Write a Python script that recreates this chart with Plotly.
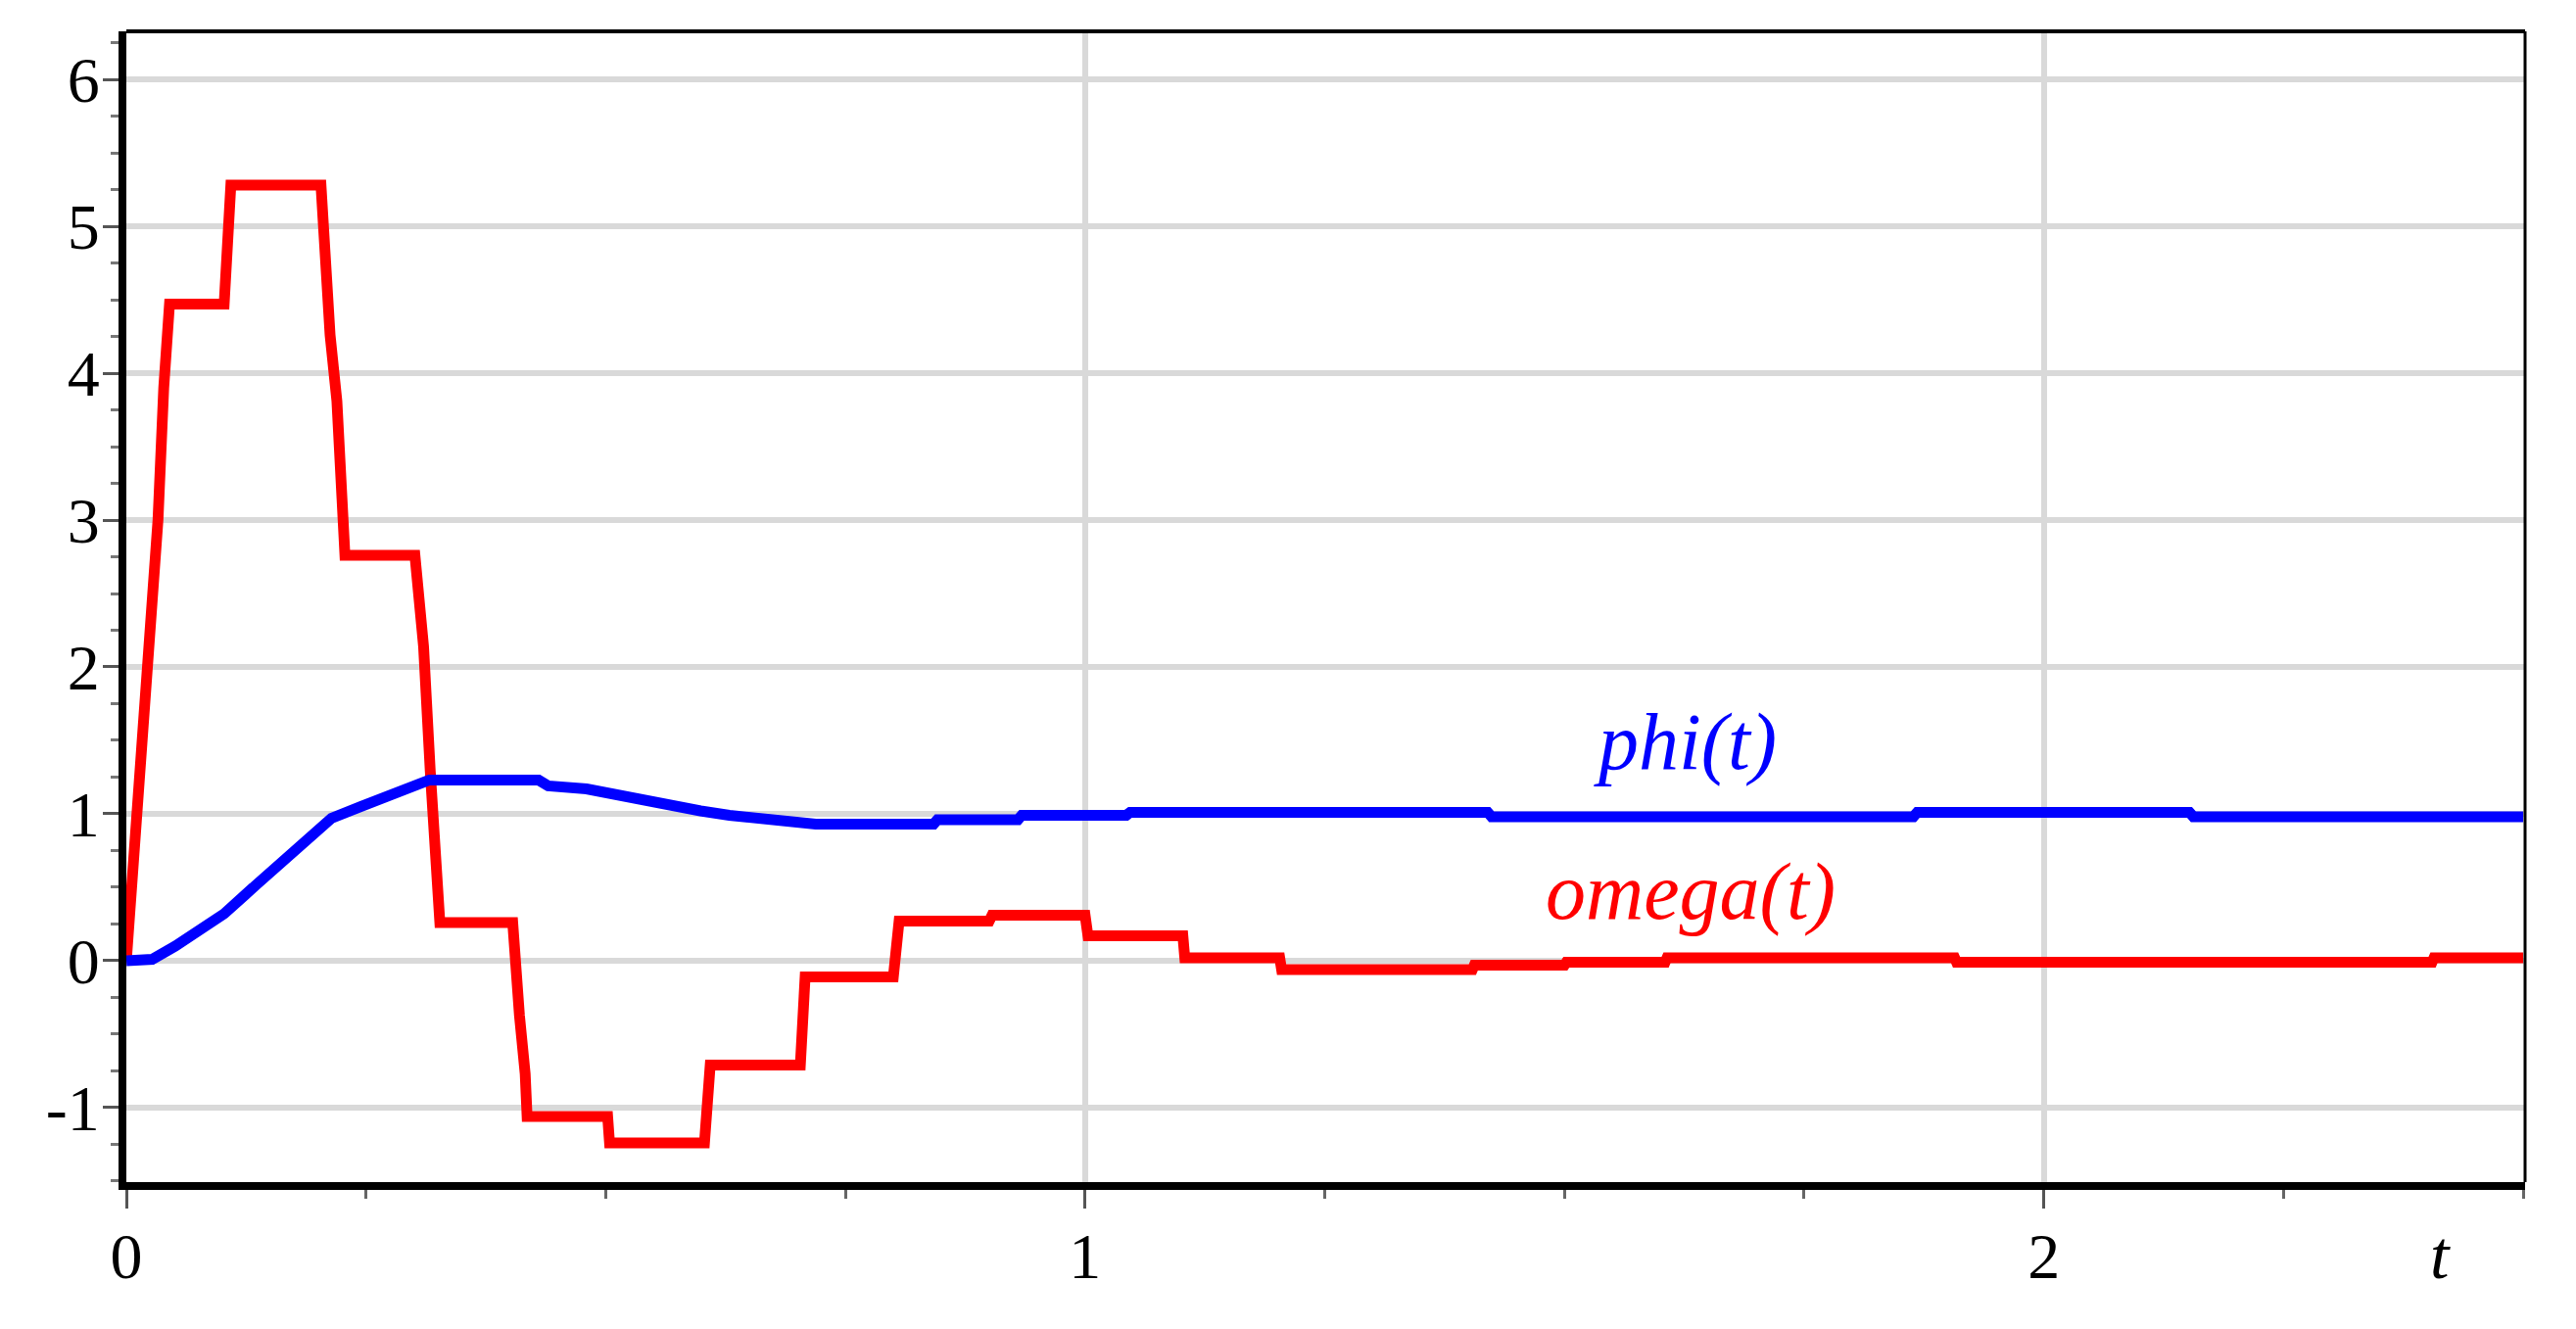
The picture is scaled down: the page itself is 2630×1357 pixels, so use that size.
import plotly.graph_objects as go

# --- omega(t) (red) ---
omega_t = [0, 0.011, 0.024, 0.033, 0.039, 0.045, 0.102, 0.109, 0.203, 0.208, 0.2125,
           0.2196, 0.223, 0.226, 0.228, 0.301, 0.306, 0.31, 0.317, 0.324, 0.327,
           0.403, 0.405, 0.41, 0.416, 0.418, 0.502, 0.504, 0.603, 0.609, 0.703,
           0.708, 0.800, 0.806, 0.900, 0.903, 1.000, 1.003, 1.102, 1.104, 1.203,
           1.205, 1.404, 1.406, 1.500, 1.502, 1.605, 1.607, 1.907, 1.909, 2.405,
           2.407, 2.5]
omega_v = [0, 1.0, 2.14, 3.0, 3.9, 4.47, 4.47, 5.28, 5.28, 4.67, 4.26,
           3.81, 3.46, 3.1, 2.76, 2.76, 2.43, 2.14, 1.29, 0.54, 0.26,
           0.26, 0.0, -0.37, -0.77, -1.06, -1.06, -1.24, -1.24, -0.71, -0.71,
           -0.11, -0.11, 0.27, 0.27, 0.31, 0.31, 0.17, 0.17, 0.02, 0.02,
           -0.06, -0.06, -0.03, -0.03, -0.01, -0.01, 0.02, 0.02, -0.01, -0.01,
           0.02, 0.02]

# --- phi(t) (blue) ---
phi_t = [0, 0.027, 0.051, 0.075, 0.102, 0.136, 0.16, 0.184, 0.214, 0.245,
         0.273, 0.296, 0.316, 0.43, 0.44, 0.48, 0.512, 0.532, 0.563, 0.576, 0.599,
         0.629, 0.67, 0.719, 0.842, 0.846, 0.93, 0.934, 1.043, 1.047, 1.42,
         1.424, 1.864, 1.868, 2.152, 2.156, 2.5]
phi_v = [0, 0.01, 0.10, 0.2, 0.32, 0.52, 0.66, 0.80, 0.97, 1.05,
         1.12, 1.18, 1.23, 1.23, 1.19, 1.17, 1.13, 1.09, 1.06, 1.04, 1.02,
         0.99, 0.96, 0.93, 0.93, 0.96, 0.96, 0.99, 0.99, 1.01, 1.01,
         0.98, 0.98, 1.01, 1.01, 0.98, 0.98]

x_ticks = [0, 1, 2]
y_ticks = [-1, 0, 1, 2, 3, 4, 5, 6]
y_labels = ["-1", "0", "1", "2", "3", "4", "5", "6"]

fig = go.Figure()
fig.add_trace(go.Scatter(x=omega_t, y=omega_v, mode="lines",
                         line=dict(color="#ff0000", width=11), name="omega(t)"))
fig.add_trace(go.Scatter(x=phi_t, y=phi_v, mode="lines",
                         line=dict(color="#0000ff", width=11), name="phi(t)"))

fig.update_layout(
    width=2630, height=1357,
    margin=dict(l=129, r=52, t=32, b=150),
    plot_bgcolor="white", paper_bgcolor="white",
    showlegend=False,
    font=dict(family="Liberation Serif", size=66, color="black"),
)

fig.update_xaxes(
    range=[0, 2.502], tickvals=x_ticks,
    ticks="outside", ticklen=19, tickwidth=3, tickcolor="#555",
    ticklabelstandoff=-8,
    showgrid=True, gridcolor="#d9d9d9", gridwidth=6, zeroline=False,
    showline=True, linecolor="black", linewidth=8,
    minor=dict(dtick=0.25, tick0=0, ticks="outside", ticklen=9,
               tickwidth=3, tickcolor="#666", showgrid=False),
)
fig.update_yaxes(
    range=[-1.507, 6.327], tickvals=y_ticks, ticktext=y_labels,
    ticks="outside", ticklen=16, tickwidth=3, tickcolor="#555",
    ticklabelstandoff=-10,
    showgrid=True, gridcolor="#d9d9d9", gridwidth=6, zeroline=False,
    showline=True, linecolor="black", linewidth=8,
    minor=dict(dtick=0.25, tick0=0, ticks="outside", ticklen=8,
               tickwidth=3, tickcolor="#777", showgrid=False),
)

# thinner top / right frame
fig.add_shape(type="line", xref="paper", yref="paper", x0=0, x1=1, y0=1, y1=1,
              line=dict(color="black", width=4))
fig.add_shape(type="line", xref="paper", yref="paper", x0=1, x1=1, y0=0, y1=1,
              line=dict(color="black", width=3))

# curve labels
fig.add_annotation(x=1.626, y=1.49, text="<i>phi(t)</i>", showarrow=False,
                   font=dict(family="Liberation Serif", size=82, color="#0000ff"))
fig.add_annotation(x=1.632, y=0.47, text="<i>omega(t)</i>", showarrow=False,
                   font=dict(family="Liberation Serif", size=82, color="#ff0000"))
fig.add_annotation(x=2.414, y=-0.063, xref="x", yref="paper", yanchor="middle",
                   text="<i>t</i>", showarrow=False,
                   font=dict(family="Liberation Serif", size=70))

fig.write_html("out.html", config={"displayModeBar": False},
               post_script="document.body.style.margin='0';")
